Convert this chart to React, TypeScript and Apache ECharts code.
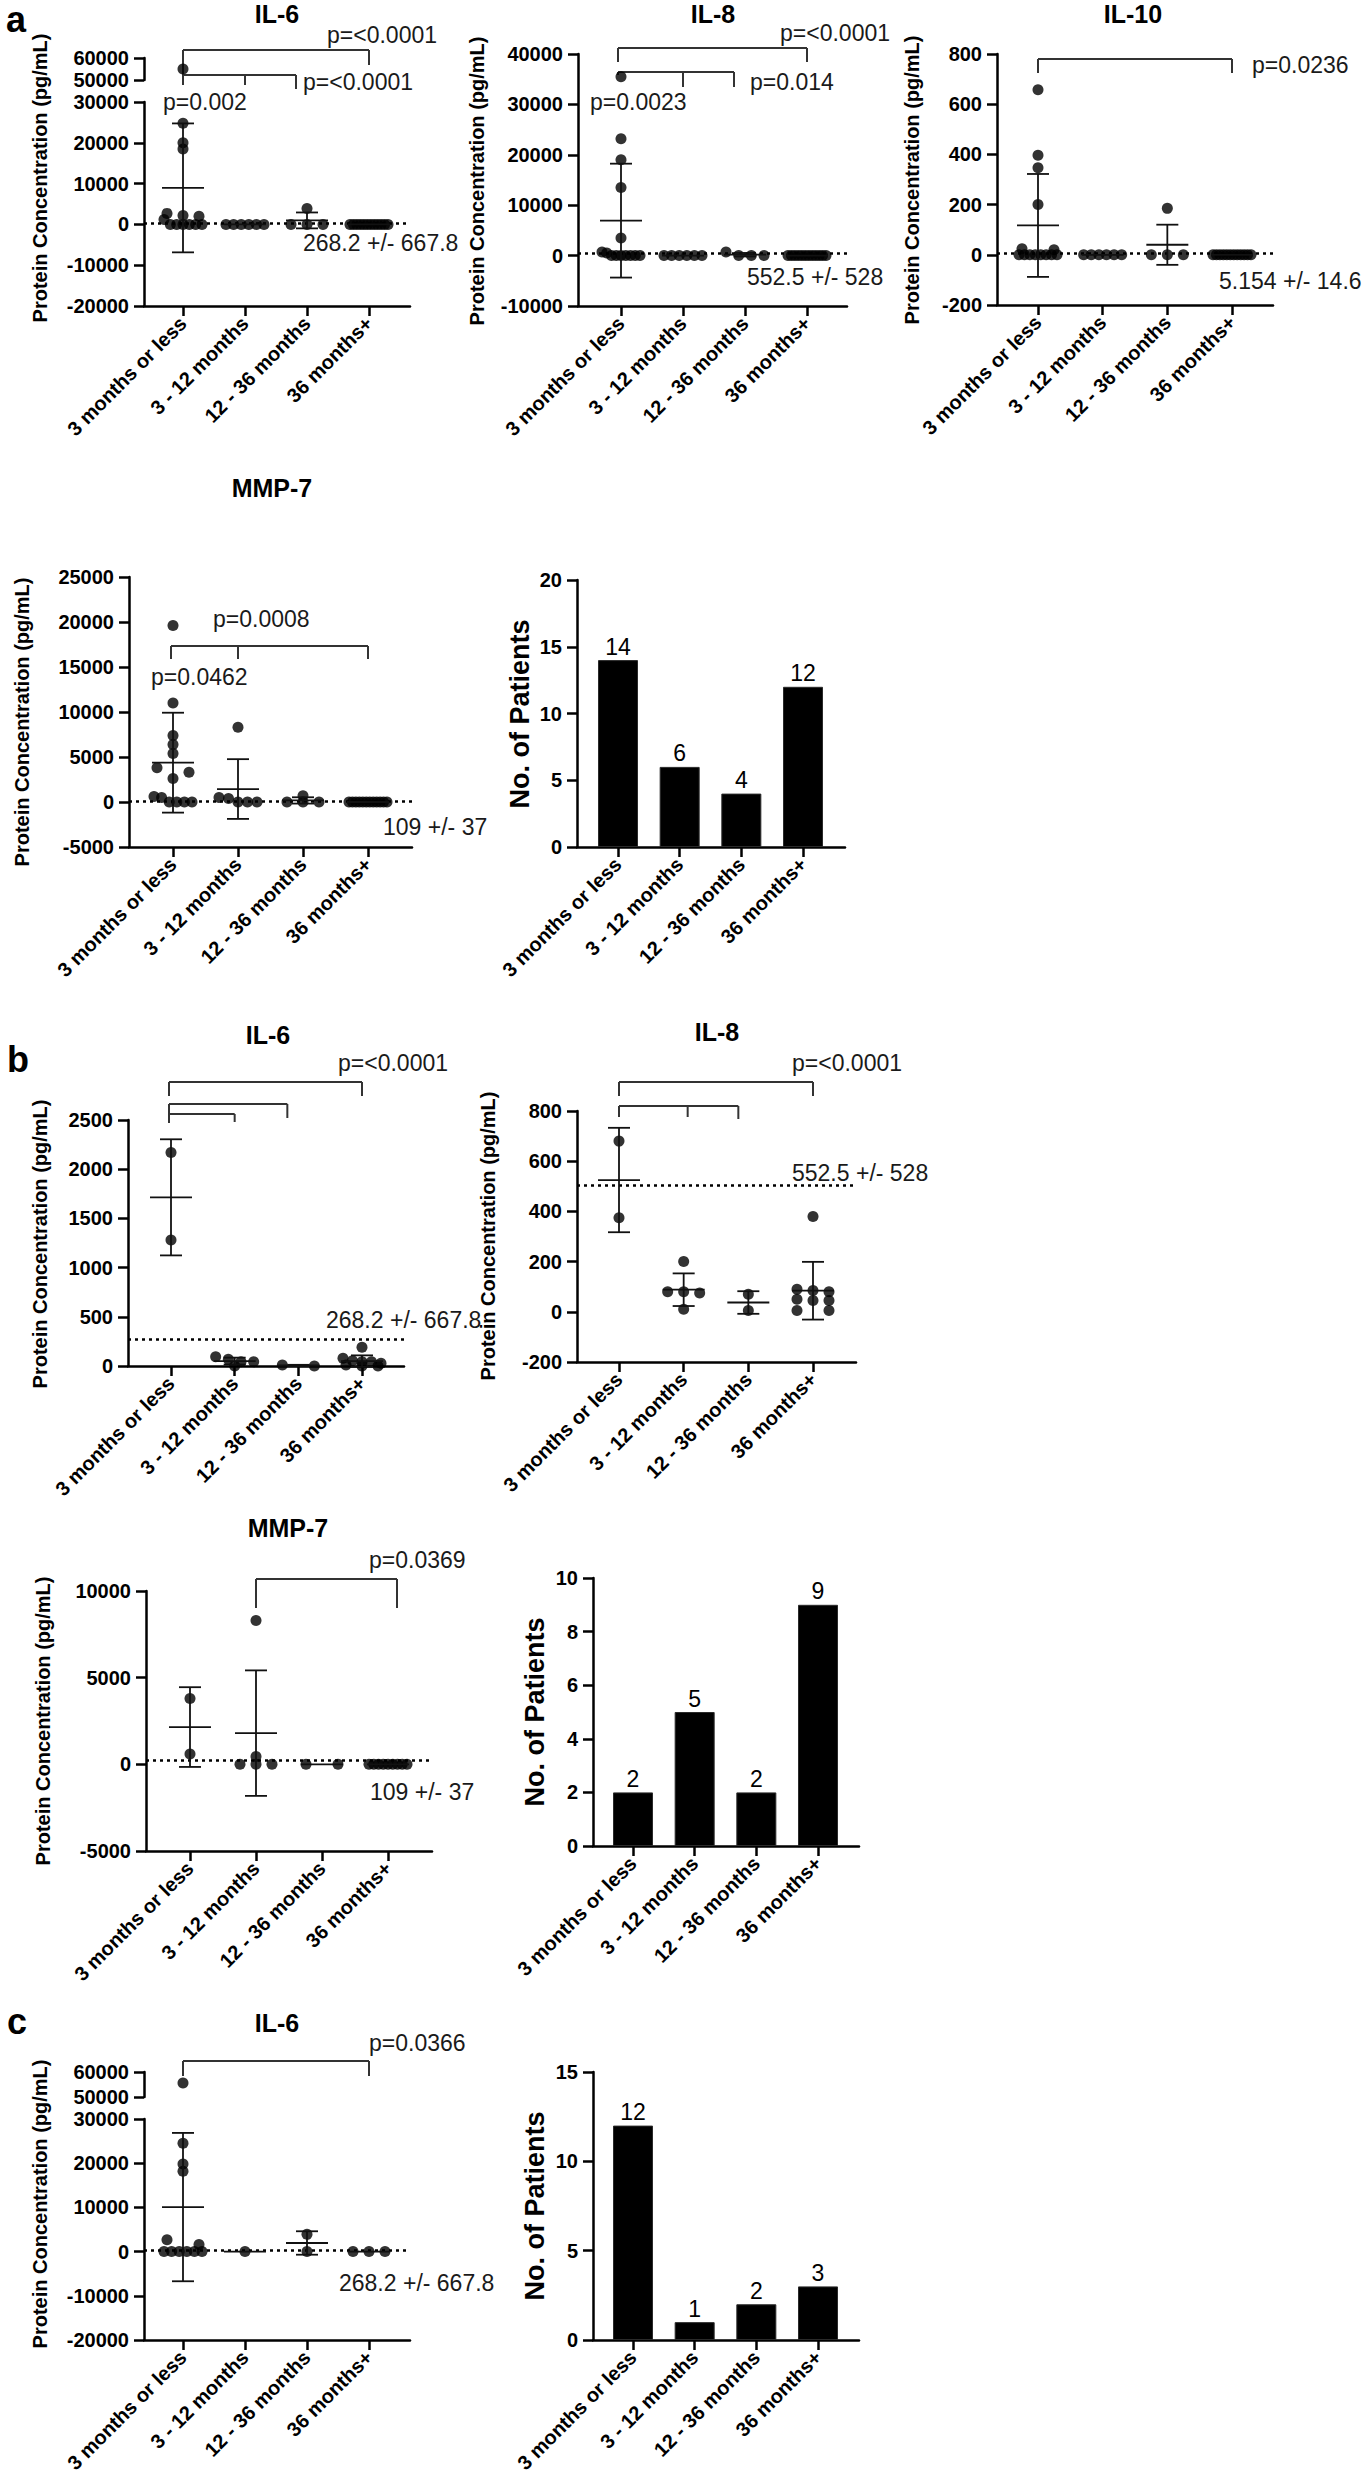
import React, { useEffect, useRef } from "react";
import * as echarts from "echarts";

const FONT = '"Liberation Sans", Arial, Helvetica, sans-serif';

const CATEGORIES = ["3 months or less", "3 - 12 months", "12 - 36 months", "36 months+"];
const Y_TITLE_CONC = "Protein Concentration (pg/mL)";
const Y_TITLE_COUNT = "No. of Patients";

// ---------- Panel a ----------
const A_IL6_POINTS = [
  [55000, 24800, 20000, 18500, 2700, 2200, 2000, 1200, 0, 0, 0, 0, 0, 0],
  [0, 0, 0, 0, 0, 0],
  [3900, 0, 0, 0],
  [0, 0, 0, 0, 0, 0, 0, 0, 0, 0, 0, 0],
];
const A_IL6_MEAN = [8950, 0, 975, 0];
const A_IL6_SD = [15800, 0, 1950, 0];
const A_IL6_REF = 268.2;
const A_IL6_REF_LABEL = "268.2 +/- 667.8";
const A_IL6_P = ["p=<0.0001", "p=<0.0001", "p=0.002"];

const A_IL8_POINTS = [
  [35500, 23200, 19000, 13500, 3500, 700, 500, 0, 0, 0, 0, 0, 0, 0],
  [0, 0, 0, 0, 0, 0],
  [700, 0, 0, 0],
  [0, 0, 0, 0, 0, 0, 0, 0, 0, 0, 0, 0],
];
const A_IL8_MEAN = [6940, 0, 175, 0];
const A_IL8_SD = [11300, 0, 350, 0];
const A_IL8_REF = 552.5;
const A_IL8_REF_LABEL = "552.5 +/- 528";
const A_IL8_P = ["p=<0.0001", "p=0.014", "p=0.0023"];

const A_IL10_POINTS = [
  [658, 397, 347, 200, 24, 20, 0, 0, 0, 0, 0, 0, 0, 0],
  [0, 0, 0, 0, 0, 0],
  [185, 0, 0, 0],
  [0, 0, 0, 0, 0, 0, 0, 0, 0, 0, 0, 0],
];
const A_IL10_MEAN = [117, 0, 40, 0];
const A_IL10_SD = [205, 0, 80, 0];
const A_IL10_REF = 5.154;
const A_IL10_REF_LABEL = "5.154 +/- 14.6";
const A_IL10_P = ["p=0.0236"];

const A_MMP7_POINTS = [
  [19600, 11000, 7400, 6400, 5400, 3800, 3300, 2600, 600, 500, 0, 0, 0, 0],
  [8300, 500, 400, 0, 0, 0],
  [700, 0, 0, 0],
  [0, 0, 0, 0, 0, 0, 0, 0, 0, 0, 0, 0],
];
const A_MMP7_MEAN = [4370, 1440, 175, 0];
const A_MMP7_SD = [5550, 3320, 350, 0];
const A_MMP7_REF = 109;
const A_MMP7_REF_LABEL = "109 +/- 37";
const A_MMP7_P = ["p=0.0008", "p=0.0462"];

const A_PATIENTS = [14, 6, 4, 12];

// ---------- Panel b ----------
const B_IL6_POINTS = [
  [2170, 1280],
  [95, 68, 44, 44, 0],
  [10, 0],
  [190, 78, 54, 44, 44, 27, 10, 0, 0],
];
const B_IL6_MEAN = [1714, 50, 5, 50];
const B_IL6_SD = [590, 35, 7, 58];
const B_IL6_REF = 268.2;
const B_IL6_REF_LABEL = "268.2 +/- 667.8";
const B_IL6_P = ["p=<0.0001"];

const B_IL8_POINTS = [
  [680, 375],
  [200, 80, 80, 75, 10],
  [70, 5],
  [380, 90, 85, 80, 50, 45, 45, 5, 5],
];
const B_IL8_MEAN = [525, 88, 37, 84];
const B_IL8_SD = [208, 65, 45, 115];
const B_IL8_REF = 505;
const B_IL8_REF_LABEL = "552.5 +/- 528";
const B_IL8_P = ["p=<0.0001"];

const B_MMP7_POINTS = [
  [3800, 600],
  [8300, 450, 0, 0, 0],
  [0, 0],
  [0, 0, 0, 0, 0, 0, 0, 0, 0],
];
const B_MMP7_MEAN = [2150, 1800, 0, 0];
const B_MMP7_SD = [2300, 3620, 0, 0];
const B_MMP7_REF = 250;
const B_MMP7_REF_LABEL = "109 +/- 37";
const B_MMP7_P = ["p=0.0369"];

const B_PATIENTS = [2, 5, 2, 9];

// ---------- Panel c ----------
const C_IL6_POINTS = [
  [55600, 24500, 19800, 18200, 2700, 1600, 0, 0, 0, 0, 0, 0],
  [0],
  [3900, 0],
  [0, 0, 0],
];
const C_IL6_MEAN = [10070, 0, 1950, 0];
const C_IL6_SD = [16780, 0, 2650, 0];
const C_IL6_REF = 268.2;
const C_IL6_REF_LABEL = "268.2 +/- 667.8";
const C_IL6_P = ["p=0.0366"];

const C_PATIENTS = [12, 1, 2, 3];

// ---------- Layout (pixel positions only) ----------
const L_A_IL6 = {
  left: 144, right: 410, top: 102, bottom: 306, c0: 183, c3: 369,
  min: -20000, max: 30000, interval: 10000,
  brk: { top: 58, bottom: 80, min: 50000, max: 60000 },
  title: "IL-6", titleX: 277, titleY: 14, yTitleX: 40, yTitleY: 178,
  refX: 303, refY: 243,
  pPos: [[327, 35], [303, 82], [163, 102]],
  brackets: [
    { cats: [0, 3], y: 50, ends: [85, 65], shift: [0, 0] },
    { cats: [0, 1, 2], y: 75, ends: [85, 85, 89], shift: [0, 0, -11] },
  ],
};
const L_A_IL8 = {
  left: 578, right: 847, top: 54, bottom: 306, c0: 621, c3: 807,
  min: -10000, max: 40000, interval: 10000,
  title: "IL-8", titleX: 713, titleY: 14, yTitleX: 477, yTitleY: 181,
  refX: 747, refY: 277,
  pPos: [[780, 33], [750, 82], [590, 102]],
  brackets: [
    { cats: [0, 3], y: 48, ends: [62, 62], shift: [-3, 0] },
    { cats: [0, 1, 2], y: 72, ends: [75, 87, 87], shift: [-3, 0, -11] },
  ],
};
const L_A_IL10 = {
  left: 997, right: 1273, top: 54, bottom: 305, c0: 1038, c3: 1232,
  min: -200, max: 800, interval: 200,
  title: "IL-10", titleX: 1133, titleY: 14, yTitleX: 912, yTitleY: 180,
  refX: 1219, refY: 281,
  pPos: [[1252, 65]],
  brackets: [{ cats: [0, 3], y: 59, ends: [73, 73], shift: [0, 0] }],
};
const L_A_MMP7 = {
  left: 129, right: 412, top: 577, bottom: 847, c0: 173, c3: 368,
  min: -5000, max: 25000, interval: 5000,
  title: "MMP-7", titleX: 272, titleY: 488, yTitleX: 22, yTitleY: 722,
  refX: 383, refY: 827,
  pPos: [[213, 619], [151, 677]],
  brackets: [{ cats: [0, 1, 3], y: 646, ends: [659, 659, 659], shift: [-2, 0, 0] }],
};
const L_B_IL6 = {
  left: 128, right: 404, top: 1120, bottom: 1366, c0: 171, c3: 362,
  min: 0, max: 2500, interval: 500,
  title: "IL-6", titleX: 268, titleY: 1035, yTitleX: 40, yTitleY: 1244,
  refX: 326, refY: 1320,
  pPos: [[338, 1063]],
  brackets: [
    { cats: [0, 3], y: 1082, ends: [1096, 1096], shift: [-2, 0] },
    { cats: [0, 2], y: 1104, ends: [1123, 1118], shift: [-2, -11] },
    { cats: [0, 1], y: 1114, ends: [1123, 1122], shift: [-2, 0] },
  ],
};
const L_B_IL8 = {
  left: 577, right: 856, top: 1111, bottom: 1362, c0: 619, c3: 813,
  min: -200, max: 800, interval: 200,
  title: "IL-8", titleX: 717, titleY: 1032, yTitleX: 488, yTitleY: 1236,
  refX: 792, refY: 1173,
  pPos: [[792, 1063]],
  brackets: [
    { cats: [0, 3], y: 1082, ends: [1096, 1096], shift: [0, 0] },
    { cats: [0, 1, 2], y: 1106, ends: [1117, 1117, 1119], shift: [0, 4, -10] },
  ],
};
const L_B_MMP7 = {
  left: 146, right: 432, top: 1591, bottom: 1851, c0: 190, c3: 388,
  min: -5000, max: 10000, interval: 5000,
  title: "MMP-7", titleX: 288, titleY: 1528, yTitleX: 43, yTitleY: 1721,
  refX: 370, refY: 1792,
  pPos: [[369, 1560]],
  brackets: [{ cats: [1, 3], y: 1579, ends: [1608, 1608], shift: [0, 9] }],
};
const L_C_IL6 = {
  left: 144, right: 410, top: 2119, bottom: 2340, c0: 183, c3: 369,
  min: -20000, max: 30000, interval: 10000,
  brk: { top: 2072, bottom: 2097, min: 50000, max: 60000 },
  title: "IL-6", titleX: 277, titleY: 2023, yTitleX: 40, yTitleY: 2204,
  refX: 339, refY: 2283,
  pPos: [[369, 2043]],
  brackets: [{ cats: [0, 3], y: 2061, ends: [2076, 2076], shift: [0, 0] }],
};
const L_BAR_A = { left: 577, right: 845, top: 580, bottom: 847, c0: 618, c3: 803, min: 0, max: 20, interval: 5, yTitleX: 520, yTitleY: 714 };
const L_BAR_B = { left: 593, right: 859, top: 1578, bottom: 1846, c0: 633, c3: 818, min: 0, max: 10, interval: 2, yTitleX: 535, yTitleY: 1712 };
const L_BAR_C = { left: 593, right: 859, top: 2072, bottom: 2340, c0: 633, c3: 818, min: 0, max: 15, interval: 5, yTitleX: 535, yTitleY: 2206 };

const LETTERS = [
  { t: "a", x: 16, y: 19 },
  { t: "b", x: 18, y: 1059 },
  { t: "c", x: 17, y: 2021 },
];

const AXIS_COLOR = "#000";
const AXIS_W = 2.5;

function xRange(L: any) {
  const unit = (L.c3 - L.c0) / 3;
  return { min: -(L.c0 - L.left) / unit, max: 3 + (L.right - L.c3) / unit, unit };
}

function swarmOffsets(values: number[], ppu: number): number[] {
  const idx = values.map((_, i) => i).sort((a, b) => values[b] - values[a]);
  const offs = new Array(values.length).fill(0);
  let g: number[] = [];
  const flush = () => {
    const n = g.length;
    if (n > 1) {
      const W = n >= 4 ? 38 : 32;
      g.forEach((id, k) => {
        offs[id] = -W / 2 + (k * W) / (n - 1);
      });
    }
    g = [];
  };
  for (const id of idx) {
    if (g.length && (values[g[0]] - values[id]) * ppu > 6) flush();
    g.push(id);
  }
  flush();
  return offs;
}

function txt(text: string, x: number, y: number, size: number, o: any = {}) {
  const align = o.align || "left";
  return {
    type: "text",
    x,
    y,
    rotation: o.rotate || 0,
    silent: true,
    z: 10,
    style: {
      text,
      fill: o.color || "#000",
      fontSize: size,
      fontWeight: o.bold ? "bold" : "normal",
      fontFamily: FONT,
      align,
      verticalAlign: "middle",
      textAlign: align,
      textVerticalAlign: "middle",
    },
  };
}

function buildOption() {
  const grids: any[] = [];
  const xAxes: any[] = [];
  const yAxes: any[] = [];
  const series: any[] = [];
  const graphics: any[] = [];

  const addGrid = (left: number, right: number, top: number, bottom: number) => {
    grids.push({ left, top, width: right - left, height: bottom - top, containLabel: false, outerBoundsMode: "none" });
    return grids.length - 1;
  };
  const lineStyle = { color: AXIS_COLOR, width: AXIS_W };
  const addXAxis = (gi: number, min: number, max: number, show: boolean) => {
    xAxes.push(
      show
        ? {
            type: "value",
            gridIndex: gi,
            min,
            max,
            axisLine: { show: true, onZero: false, lineStyle },
            axisTick: { show: true, customValues: [0, 1, 2, 3], length: 10, lineStyle },
            axisLabel: {
              show: true,
              customValues: [0, 1, 2, 3],
              rotate: 45,
              margin: 14,
              formatter: (v: number) => CATEGORIES[Math.round(v)] ?? "",
              fontFamily: FONT,
              fontWeight: "bold",
              fontSize: 20,
              color: "#000",
            },
            splitLine: { show: false },
          }
        : { type: "value", gridIndex: gi, min, max, show: false, splitLine: { show: false } }
    );
    return xAxes.length - 1;
  };
  const addYAxis = (gi: number, min: number, max: number, interval: number) => {
    yAxes.push({
      type: "value",
      gridIndex: gi,
      min,
      max,
      interval,
      axisLine: { show: true, onZero: false, lineStyle },
      axisTick: { show: true, length: 10, lineStyle },
      axisLabel: {
        fontFamily: FONT,
        fontWeight: "bold",
        fontSize: 20,
        color: "#000",
        margin: 15,
        formatter: (v: number) => String(v),
      },
      splitLine: { show: false },
    });
    return yAxes.length - 1;
  };

  const addScatterPanel = (
    L: any,
    groups: number[][],
    means: number[],
    sds: number[],
    ref: number,
    refLabel: string,
    pTexts: string[]
  ) => {
    const { min: xmin, max: xmax, unit } = xRange(L);
    const gi = addGrid(L.left, L.right, L.top, L.bottom);
    const xi = addXAxis(gi, xmin, xmax, true);
    const yi = addYAxis(gi, L.min, L.max, L.interval);
    const ppu = (L.bottom - L.top) / (L.max - L.min);
    const lowerData: any[] = [];
    const upperData: any[] = [];
    groups.forEach((vals, c) => {
      const low = vals.filter((v) => !L.brk || v <= L.max);
      const high = vals.filter((v) => L.brk && v > L.max);
      const offs = swarmOffsets(low, ppu);
      low.forEach((v, k) => lowerData.push({ value: [c, v], symbolOffset: [offs[k], 0] }));
      high.forEach((v) => upperData.push({ value: [c, v] }));
    });
    series.push({
      type: "scatter",
      xAxisIndex: xi,
      yAxisIndex: yi,
      data: lowerData,
      symbol: "circle",
      symbolSize: 11,
      itemStyle: { color: "#000" },
      clip: false,
      silent: true,
      z: 3,
      markLine: {
        silent: true,
        symbol: ["none", "none"],
        label: { show: false },
        lineStyle: { type: [3, 4], color: "#000", width: 2.5 },
        data: [{ yAxis: ref }],
        z: 2,
      },
    });
    series.push({
      type: "custom",
      xAxisIndex: xi,
      yAxisIndex: yi,
      silent: true,
      clip: false,
      z: 4,
      data: means.map((m, i) => [i, m, m - sds[i], m + sds[i]]),
      renderItem: (_p: any, api: any) => {
        const c = api.value(0);
        const m = api.value(1);
        const lo = api.value(2);
        const hi = api.value(3);
        const pm = api.coord([c, m]);
        const pl = api.coord([c, lo]);
        const ph = api.coord([c, hi]);
        const style = { stroke: "#111", lineWidth: 1.8 };
        const children: any[] = [
          { type: "line", shape: { x1: pm[0] - 21, y1: pm[1], x2: pm[0] + 21, y2: pm[1] }, style },
        ];
        if (hi > lo) {
          children.push({ type: "line", shape: { x1: pl[0], y1: pl[1], x2: ph[0], y2: ph[1] }, style });
          children.push({ type: "line", shape: { x1: ph[0] - 11, y1: ph[1], x2: ph[0] + 11, y2: ph[1] }, style });
          children.push({ type: "line", shape: { x1: pl[0] - 11, y1: pl[1], x2: pl[0] + 11, y2: pl[1] }, style });
        }
        return { type: "group", children };
      },
    });
    if (L.brk) {
      const gu = addGrid(L.left, L.right, L.brk.top, L.brk.bottom);
      const xu = addXAxis(gu, xmin, xmax, false);
      const yu = addYAxis(gu, L.brk.min, L.brk.max, L.brk.max - L.brk.min);
      series.push({
        type: "scatter",
        xAxisIndex: xu,
        yAxisIndex: yu,
        data: upperData,
        symbol: "circle",
        symbolSize: 11,
        itemStyle: { color: "#000" },
        clip: false,
        silent: true,
        z: 3,
      });
    }
    graphics.push(txt(L.title, L.titleX, L.titleY, 25, { bold: true, align: "center" }));
    graphics.push(txt(Y_TITLE_CONC, L.yTitleX, L.yTitleY, 20, { bold: true, align: "center", rotate: Math.PI / 2 }));
    graphics.push(txt(refLabel, L.refX, L.refY, 23, { color: "#1a1a1a" }));
    pTexts.forEach((p, i) => {
      graphics.push(txt(p, L.pPos[i][0], L.pPos[i][1], 23, { color: "#1a1a1a" }));
    });
    const bStyle = { stroke: "#333", lineWidth: 2 };
    L.brackets.forEach((b: any) => {
      const xs = b.cats.map((c: number, k: number) => L.c0 + c * unit + (b.shift[k] || 0));
      graphics.push({
        type: "line",
        silent: true,
        shape: { x1: xs[0], y1: b.y, x2: xs[xs.length - 1], y2: b.y },
        style: bStyle,
      });
      xs.forEach((x: number, k: number) => {
        graphics.push({ type: "line", silent: true, shape: { x1: x, y1: b.y, x2: x, y2: b.ends[k] }, style: bStyle });
      });
    });
  };

  const addBarPanel = (L: any, values: number[]) => {
    const { min: xmin, max: xmax } = xRange(L);
    const gi = addGrid(L.left, L.right, L.top, L.bottom);
    const xi = addXAxis(gi, xmin, xmax, true);
    const yi = addYAxis(gi, L.min, L.max, L.interval);
    series.push({
      type: "bar",
      xAxisIndex: xi,
      yAxisIndex: yi,
      barWidth: 40,
      silent: true,
      data: values.map((v, i) => [i, v]),
      itemStyle: { color: "#000", borderColor: "#2a2a2a", borderWidth: 1 },
      label: {
        show: true,
        position: "top",
        distance: 2,
        fontFamily: FONT,
        fontSize: 23,
        color: "#000",
        formatter: (p: any) => String(p.value[1]),
      },
    });
    graphics.push(txt(Y_TITLE_COUNT, L.yTitleX, L.yTitleY, 27, { bold: true, align: "center", rotate: Math.PI / 2 }));
  };

  addScatterPanel(L_A_IL6, A_IL6_POINTS, A_IL6_MEAN, A_IL6_SD, A_IL6_REF, A_IL6_REF_LABEL, A_IL6_P);
  addScatterPanel(L_A_IL8, A_IL8_POINTS, A_IL8_MEAN, A_IL8_SD, A_IL8_REF, A_IL8_REF_LABEL, A_IL8_P);
  addScatterPanel(L_A_IL10, A_IL10_POINTS, A_IL10_MEAN, A_IL10_SD, A_IL10_REF, A_IL10_REF_LABEL, A_IL10_P);
  addScatterPanel(L_A_MMP7, A_MMP7_POINTS, A_MMP7_MEAN, A_MMP7_SD, A_MMP7_REF, A_MMP7_REF_LABEL, A_MMP7_P);
  addBarPanel(L_BAR_A, A_PATIENTS);
  addScatterPanel(L_B_IL6, B_IL6_POINTS, B_IL6_MEAN, B_IL6_SD, B_IL6_REF, B_IL6_REF_LABEL, B_IL6_P);
  addScatterPanel(L_B_IL8, B_IL8_POINTS, B_IL8_MEAN, B_IL8_SD, B_IL8_REF, B_IL8_REF_LABEL, B_IL8_P);
  addScatterPanel(L_B_MMP7, B_MMP7_POINTS, B_MMP7_MEAN, B_MMP7_SD, B_MMP7_REF, B_MMP7_REF_LABEL, B_MMP7_P);
  addBarPanel(L_BAR_B, B_PATIENTS);
  addScatterPanel(L_C_IL6, C_IL6_POINTS, C_IL6_MEAN, C_IL6_SD, C_IL6_REF, C_IL6_REF_LABEL, C_IL6_P);
  addBarPanel(L_BAR_C, C_PATIENTS);

  LETTERS.forEach((l) => graphics.push(txt(l.t, l.x, l.y, 36, { bold: true, align: "center" })));

  return {
    animation: false,
    backgroundColor: "#fff",
    textStyle: { fontFamily: FONT },
    grid: grids,
    xAxis: xAxes,
    yAxis: yAxes,
    series,
    graphic: { elements: graphics },
  };
}

export default function App() {
  const ref = useRef<HTMLDivElement | null>(null);
  useEffect(() => {
    document.body.style.margin = "0";
    const el = ref.current;
    if (!el) return;
    const chart = echarts.init(el, null, { renderer: "svg", width: 1362, height: 2480 });
    chart.setOption(buildOption() as any);
    return () => {
      chart.dispose();
    };
  }, []);
  return <div ref={ref} style={{ width: 1362, height: 2480, background: "#fff" }} />;
}
